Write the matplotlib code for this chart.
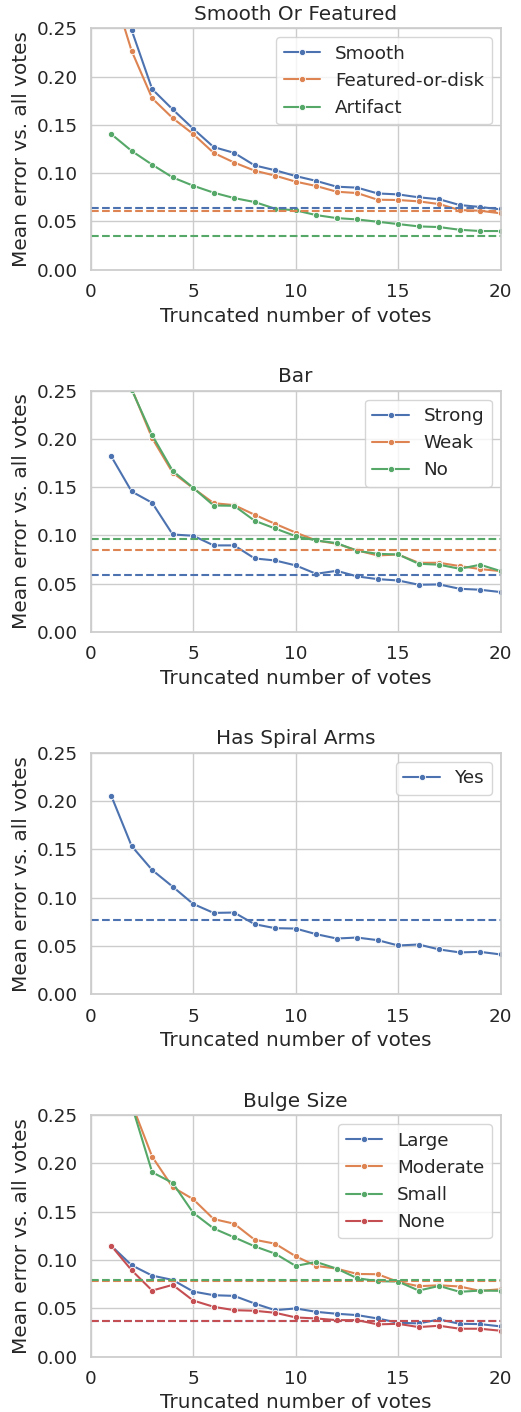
import numpy as np
import matplotlib
matplotlib.use("Agg")
import matplotlib.pyplot as plt
import seaborn as sns

sns.set_theme(style="whitegrid", palette="deep", font_scale=1.2)

votes = list(range(1, 21))

# smooth or featured
smooth = [0.310, 0.248, 0.187, 0.166, 0.146, 0.127, 0.121, 0.108, 0.103, 0.097,
          0.092, 0.086, 0.085, 0.079, 0.078, 0.075, 0.073, 0.067, 0.065, 0.0625]
featured = [0.295, 0.2265, 0.1775, 0.157, 0.1405, 0.121, 0.111, 0.1026, 0.0974, 0.0912,
            0.0867, 0.0808, 0.0794, 0.0725, 0.0722, 0.0708, 0.068, 0.0618, 0.0611, 0.0584]
artifact = [0.1405, 0.123, 0.1088, 0.0956, 0.087, 0.0798, 0.0742, 0.0701, 0.0632, 0.0615,
            0.0566, 0.0535, 0.0521, 0.0497, 0.0473, 0.0449, 0.0442, 0.0414, 0.0401, 0.0401]
smooth_base = [0.0635, 0.0604, 0.0352]

# bar
strong = [0.182, 0.1455, 0.1338, 0.101, 0.0997, 0.0897, 0.0897, 0.0762, 0.0741, 0.069,
          0.0603, 0.0634, 0.0576, 0.0548, 0.0534, 0.049, 0.0493, 0.0448, 0.0438, 0.0414]
weak = [0.330, 0.252, 0.2007, 0.165, 0.149, 0.1334, 0.1314, 0.1214, 0.112, 0.103,
        0.0948, 0.0914, 0.0845, 0.0793, 0.0803, 0.0717, 0.0717, 0.0683, 0.0652, 0.0631]
no_bar = [0.332, 0.251, 0.2038, 0.1669, 0.1493, 0.131, 0.1307, 0.1152, 0.1072, 0.0993,
          0.0948, 0.0921, 0.0841, 0.081, 0.0803, 0.0707, 0.0697, 0.0655, 0.0697, 0.0631]
bar_base = [0.0593, 0.0845, 0.0962]

# spiral
spiral_yes = [0.2058, 0.1535, 0.1287, 0.1115, 0.0936, 0.0843, 0.0847, 0.0726, 0.0685, 0.0681,
              0.0623, 0.0578, 0.0588, 0.0561, 0.0506, 0.0516, 0.0465, 0.0434, 0.044, 0.0413]
spiral_base = [0.0774]

# bulge size
large = [0.1149, 0.0946, 0.0839, 0.0794, 0.0674, 0.0636, 0.0629, 0.055, 0.0481, 0.0499,
         0.0464, 0.0444, 0.043, 0.0395, 0.0351, 0.0344, 0.0385, 0.034, 0.0337, 0.0313]
moderate = [0.340, 0.262, 0.207, 0.1754, 0.163, 0.1424, 0.1376, 0.121, 0.1169, 0.1039,
            0.0939, 0.0911, 0.0856, 0.0853, 0.0774, 0.0729, 0.0739, 0.0726, 0.0681, 0.0698]
small = [0.350, 0.2604, 0.1909, 0.1798, 0.1489, 0.1327, 0.1235, 0.1142, 0.1066, 0.0939,
         0.098, 0.0911, 0.0812, 0.0781, 0.0777, 0.0684, 0.0732, 0.0671, 0.0684, 0.0681]
none_bulge = [0.1149, 0.0894, 0.0684, 0.0743, 0.0581, 0.0516, 0.0481, 0.0475, 0.0454, 0.0406,
              0.0395, 0.0378, 0.0378, 0.0334, 0.034, 0.0306, 0.032, 0.0289, 0.0289, 0.0268]
bulge_base = [0.0367, 0.0787, 0.0798, 0.0365]

questions = [
    ("Smooth Or Featured", ["Smooth", "Featured-or-disk", "Artifact"],
     [smooth, featured, artifact], smooth_base),
    ("Bar", ["Strong", "Weak", "No"], [strong, weak, no_bar], bar_base),
    ("Has Spiral Arms", ["Yes"], [spiral_yes], spiral_base),
    ("Bulge Size", ["Large", "Moderate", "Small", "None"],
     [large, moderate, small, none_bulge], bulge_base),
]

colors = sns.color_palette("deep")

fig, axes = plt.subplots(4, 1, figsize=(5.21, 14.12), dpi=100)
fig.subplots_adjust(left=0.174, right=0.961, top=0.980, bottom=0.0392, hspace=0.50)

for ax, (title, answers, series, base) in zip(axes, questions):
    for i in range(len(answers)):
        ax.plot(votes, series[i], color=colors[i], marker="o", markersize=4.5,
                markeredgecolor="white", markeredgewidth=0.6, linewidth=1.5,
                label=answers[i])
    for i in range(len(answers)):
        ax.axhline(base[i], color=colors[i], linestyle="--", linewidth=1.5)
    ax.set_xlim(0, 20)
    ax.set_ylim(0, 0.25)
    ax.set_xticks([0, 5, 10, 15, 20])
    ax.set_title(title)
    ax.set_xlabel("Truncated number of votes")
    ax.set_ylabel("Mean error vs. all votes")
    ax.legend(loc="upper right")

fig.savefig("out.png", dpi=100)
